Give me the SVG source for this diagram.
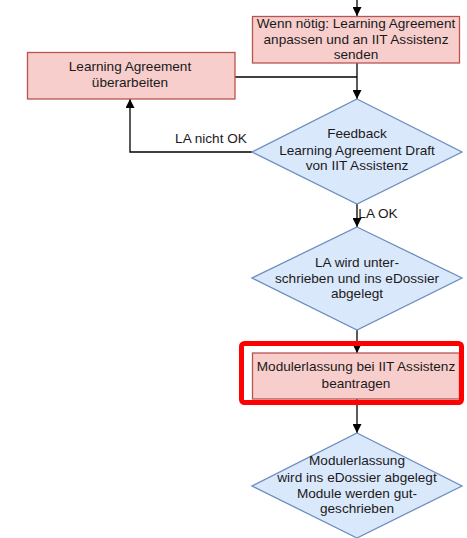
<svg xmlns="http://www.w3.org/2000/svg" width="467" height="538" viewBox="0 0 467 538">
<style>
.bg{fill:#ffffff}
.proc{fill:#f8cecc;stroke:#b85450;stroke-width:1.3}
.dec{fill:#dae8fc;stroke:#6c8ebf;stroke-width:1.3}
.t{font-family:"Liberation Sans",Arial,sans-serif;font-size:13.6px;fill:#1a1a1a;text-anchor:middle}
.edge{fill:none;stroke:#000;stroke-width:1.3}
.hl{fill:none;stroke:#ff0000;stroke-width:5}
</style>
<defs>
<marker id="ah" viewBox="0 0 10 10" refX="10" refY="5" markerWidth="9" markerHeight="9" markerUnits="userSpaceOnUse" orient="auto">
<path d="M0,0 L10,5 L0,10 Z" fill="#000"/>
</marker>
</defs>
<rect class="bg" x="0" y="0" width="467" height="538"/>
<g id="connectors">
<path class="edge" d="M357,0 L357,16" marker-end="url(#ah)"/>
<path class="edge" d="M357,63 L357,99" marker-end="url(#ah)"/>
<path class="edge" d="M235,77 L357,77"/>
<path class="edge" d="M252,152 L130,152 L130,99" marker-end="url(#ah)"/>
<text class="t" x="211" y="143">LA nicht OK</text>
<path class="edge" d="M357,204 L357,227" marker-end="url(#ah)"/>
<text class="t" x="378" y="218">LA OK</text>
<path class="edge" d="M357,330 L357,353" marker-end="url(#ah)"/>
<path class="edge" d="M357,399 L357,433" marker-end="url(#ah)"/>
</g>
<g id="node-top">
<rect class="proc" x="252.5" y="16.5" width="207" height="46.5"/>
<text class="t" x="356" y="28">Wenn nötig: Learning Agreement</text>
<text class="t" x="356" y="44">anpassen und an IIT Assistenz</text>
<text class="t" x="356" y="59">senden</text>
</g>
<g id="node-left">
<rect class="proc" x="27.5" y="52.5" width="207.5" height="46.5"/>
<text class="t" x="130" y="71">Learning Agreement</text>
<text class="t" x="130" y="87">überarbeiten</text>
</g>
<g id="node-feedback">
<polygon class="dec" points="357,99 462,152 357,204 252,152"/>
<text class="t" x="357" y="138">Feedback</text>
<text class="t" x="357" y="155">Learning Agreement Draft</text>
<text class="t" x="357" y="170">von IIT Assistenz</text>
</g>
<g id="node-signed">
<polygon class="dec" points="357,227 462,278 357,330 252,278"/>
<text class="t" x="357" y="267">LA wird unter-</text>
<text class="t" x="357" y="283">schrieben und ins eDossier</text>
<text class="t" x="357" y="298">abgelegt</text>
</g>
<g id="node-modul">
<rect class="proc" x="252.5" y="353" width="207" height="46"/>
<text class="t" x="356" y="371">Modulerlassung bei IIT Assistenz</text>
<text class="t" x="356" y="388">beantragen</text>
</g>
<g id="highlight">
<rect class="hl" x="241.5" y="343.5" width="220" height="59" rx="3"/>
</g>
<g id="node-final">
<polygon class="dec" points="357,433 462,486 357,538 252,486"/>
<text class="t" x="357" y="465">Modulerlassung</text>
<text class="t" x="357" y="482">wird ins eDossier abgelegt</text>
<text class="t" x="357" y="498">Module werden gut-</text>
<text class="t" x="357" y="513">geschrieben</text>
</g>
</svg>
